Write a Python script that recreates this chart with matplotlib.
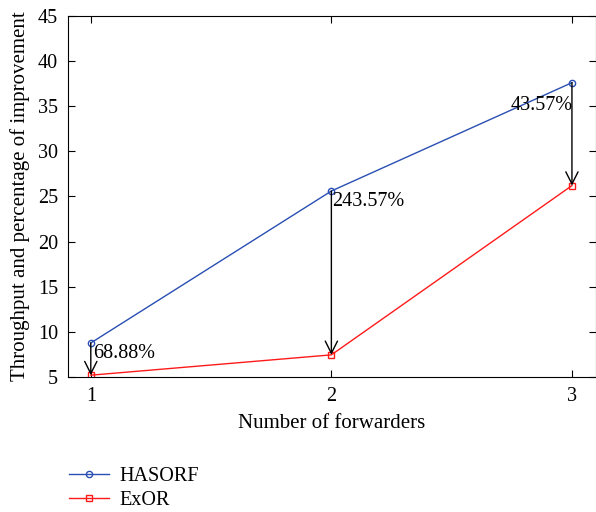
import matplotlib
matplotlib.use("Agg")
import matplotlib.pyplot as plt

forwarders = [1, 2, 3]
hasorf = [8.77, 25.6, 37.6]
exor = [5.2, 7.45, 26.2]
improvement_labels = ["68.88%", "243.57%", "43.57%"]
yticks = [5, 10, 15, 20, 25, 30, 35, 40, 45]

plt.rcParams['font.family'] = ['Liberation Serif', 'DejaVu Serif']

fig = plt.figure(figsize=(5.96, 5.12), dpi=100)
ax = fig.add_axes([0.114, 0.2637, 0.886, 0.7053])

l1, = ax.plot(forwarders, hasorf, color='#2a4fb3', lw=1.0, marker='o', ms=4.5,
              mfc='none', mec='#2a4fb3', mew=1.0, label='HASORF')
l2, = ax.plot(forwarders, exor, color='#ff1a1a', lw=1.0, marker='s', ms=4,
              mfc='none', mec='#ff1a1a', mew=1.0, label='ExOR')

for x, h, e in zip(forwarders, hasorf, exor):
    ax.annotate('', xy=(x, e), xytext=(x, h),
                arrowprops=dict(arrowstyle='->', color='black', lw=1.0,
                                shrinkA=0, shrinkB=0, mutation_scale=22))

ax.text(1.01, 7.6, improvement_labels[0], ha='left', va='center', fontsize=14.5)
ax.text(2.005, 24.4, improvement_labels[1], ha='left', va='center', fontsize=14.5)
ax.text(3.005, 35.1, improvement_labels[2], ha='right', va='center', fontsize=14.5)

ax.set_xlim(0.905, 3.1)
ax.set_ylim(5, 45)
ax.set_xticks(forwarders)
ax.set_yticks(yticks)
ax.tick_params(direction='in', top=True, right=True, length=5, labelsize=14.5, pad=7)
ax.set_xlabel('Number of forwarders', fontsize=15, labelpad=6)
ax.set_ylabel('Throughput and percentage of improvement', fontsize=15, labelpad=6)

fig.legend(handles=[l1, l2], loc='center left', bbox_to_anchor=(0.085, 0.046), frameon=False,
           fontsize=14.5, handlelength=2.0, handletextpad=0.5, labelspacing=0.2)

fig.savefig('out.png', dpi=100)
